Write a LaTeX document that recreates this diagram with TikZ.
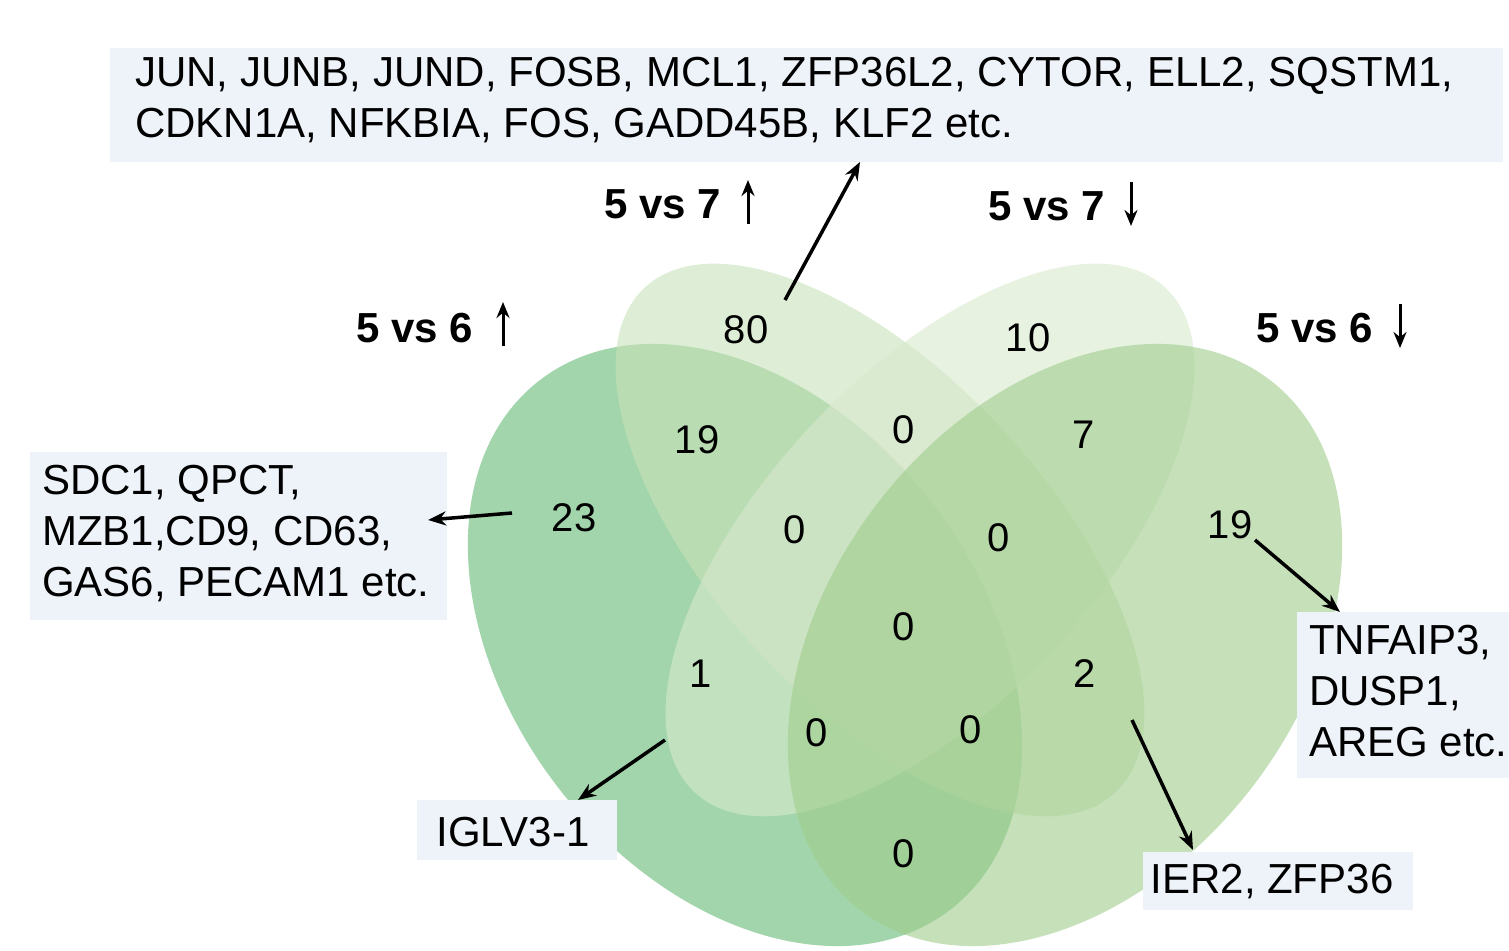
\documentclass[tikz,border=0pt]{standalone}
\usepackage{fontspec}
\setmainfont{Liberation Sans}
\usetikzlibrary{arrows.meta}
\begin{document}
\begin{tikzpicture}[x=1pt,y=1pt,
  box/.style={inner sep=0pt,align=left,anchor=north west,font=\fontsize{42}{51}\selectfont},
  num/.style={font=\fontsize{40}{44}\selectfont},
  lab/.style={font=\fontsize{42}{44}\selectfont},
  ttl/.style={font=\fontsize{42}{44}\selectfont\bfseries},
  arr/.style={-{Stealth[length=18pt,width=14pt]},line width=3.5pt},
  sar/.style={line width=3pt,-{Stealth[length=16pt,width=13pt]}}]
\definecolor{boxc}{RGB}{238,243,250}
\definecolor{ca}{RGB}{100,185,115}
\definecolor{cb}{RGB}{200,225,185}
\definecolor{cc}{RGB}{215,233,205}
\definecolor{cd}{RGB}{160,205,140}
\useasboundingbox (0,0) rectangle (1509,950);
\fill[ca,fill opacity=0.6,rotate around={-52:(745,305)}] (745,305) ellipse [x radius=335,y radius=235];
\fill[cb,fill opacity=0.6,rotate around={-47:(880,410)}] (880,410) ellipse [x radius=345,y radius=165];
\fill[cc,fill opacity=0.6,rotate around={47:(930,410)}] (930,410) ellipse [x radius=345,y radius=165];
\fill[cd,fill opacity=0.6,rotate around={52:(1065,305)}] (1065,305) ellipse [x radius=335,y radius=235];
% boxes
\fill[boxc] (110,902) rectangle (1503,788);
\node[box] (top) at (135,893) {JUN, JUNB, JUND, FOSB, MCL1, ZFP36L2, CYTOR, ELL2, SQSTM1,\\CDKN1A, NFKBIA, FOS, GADD45B, KLF2 etc.};
\fill[boxc] (30,498) rectangle (447,330);
\node[box] (left) at (42,485) {SDC1, QPCT,\\MZB1,CD9, CD63,\\GAS6, PECAM1 etc.};
\fill[boxc] (417,150) rectangle (617,90);
\node[lab] (ig) at (513,118) {IGLV3-1};
\fill[boxc] (1297,338) rectangle (1509,172);
\node[box] (right) at (1309,325) {TNFAIP3,\\DUSP1,\\AREG etc.};
\fill[boxc] (1143,98) rectangle (1413,40);
\node[lab] (ier) at (1272,68) {IER2, ZFP36};
% titles
\node[ttl,anchor=west] (t1) at (353,622) {5 vs 6};
\draw[sar] (503,604) -- (503,648);
\node[ttl,anchor=west] (t2) at (601,746) {5 vs 7};
\draw[sar] (748,726) -- (748,770);
\node[ttl,anchor=west] (t3) at (985,744) {5 vs 7};
\draw[sar] (1131,768) -- (1131,724);
\node[ttl,anchor=west] (t4) at (1253,622) {5 vs 6};
\draw[sar] (1400,646) -- (1400,602);
% numbers
\foreach \x/\y/\t in {746/620/80,1028/612/10,697/510/19,904/520/0,1084/515/7,574/432/23,795/420/0,999/412/0,1230/425/19,904/323/0,701/276/1,1085/276/2,817/217/0,971/220/0,904/96/0}
  \node[num] at (\x,\y) {\t};
% arrows
\coordinate (a1) at (785,650); \coordinate (b1) at (860,788);
\draw[arr] (a1) -- (b1);
\coordinate (a2) at (512,437); \coordinate (b2) at (428,430);
\draw[arr] (a2) -- (b2);
\coordinate (a3) at (665,210); \coordinate (b3) at (578,150);
\draw[arr] (a3) -- (b3);
\coordinate (a4) at (1255,410); \coordinate (b4) at (1340,338);
\draw[arr] (a4) -- (b4);
\coordinate (a5) at (1132,230); \coordinate (b5) at (1193,100);
\draw[arr] (a5) -- (b5);
\end{tikzpicture}
\end{document}
